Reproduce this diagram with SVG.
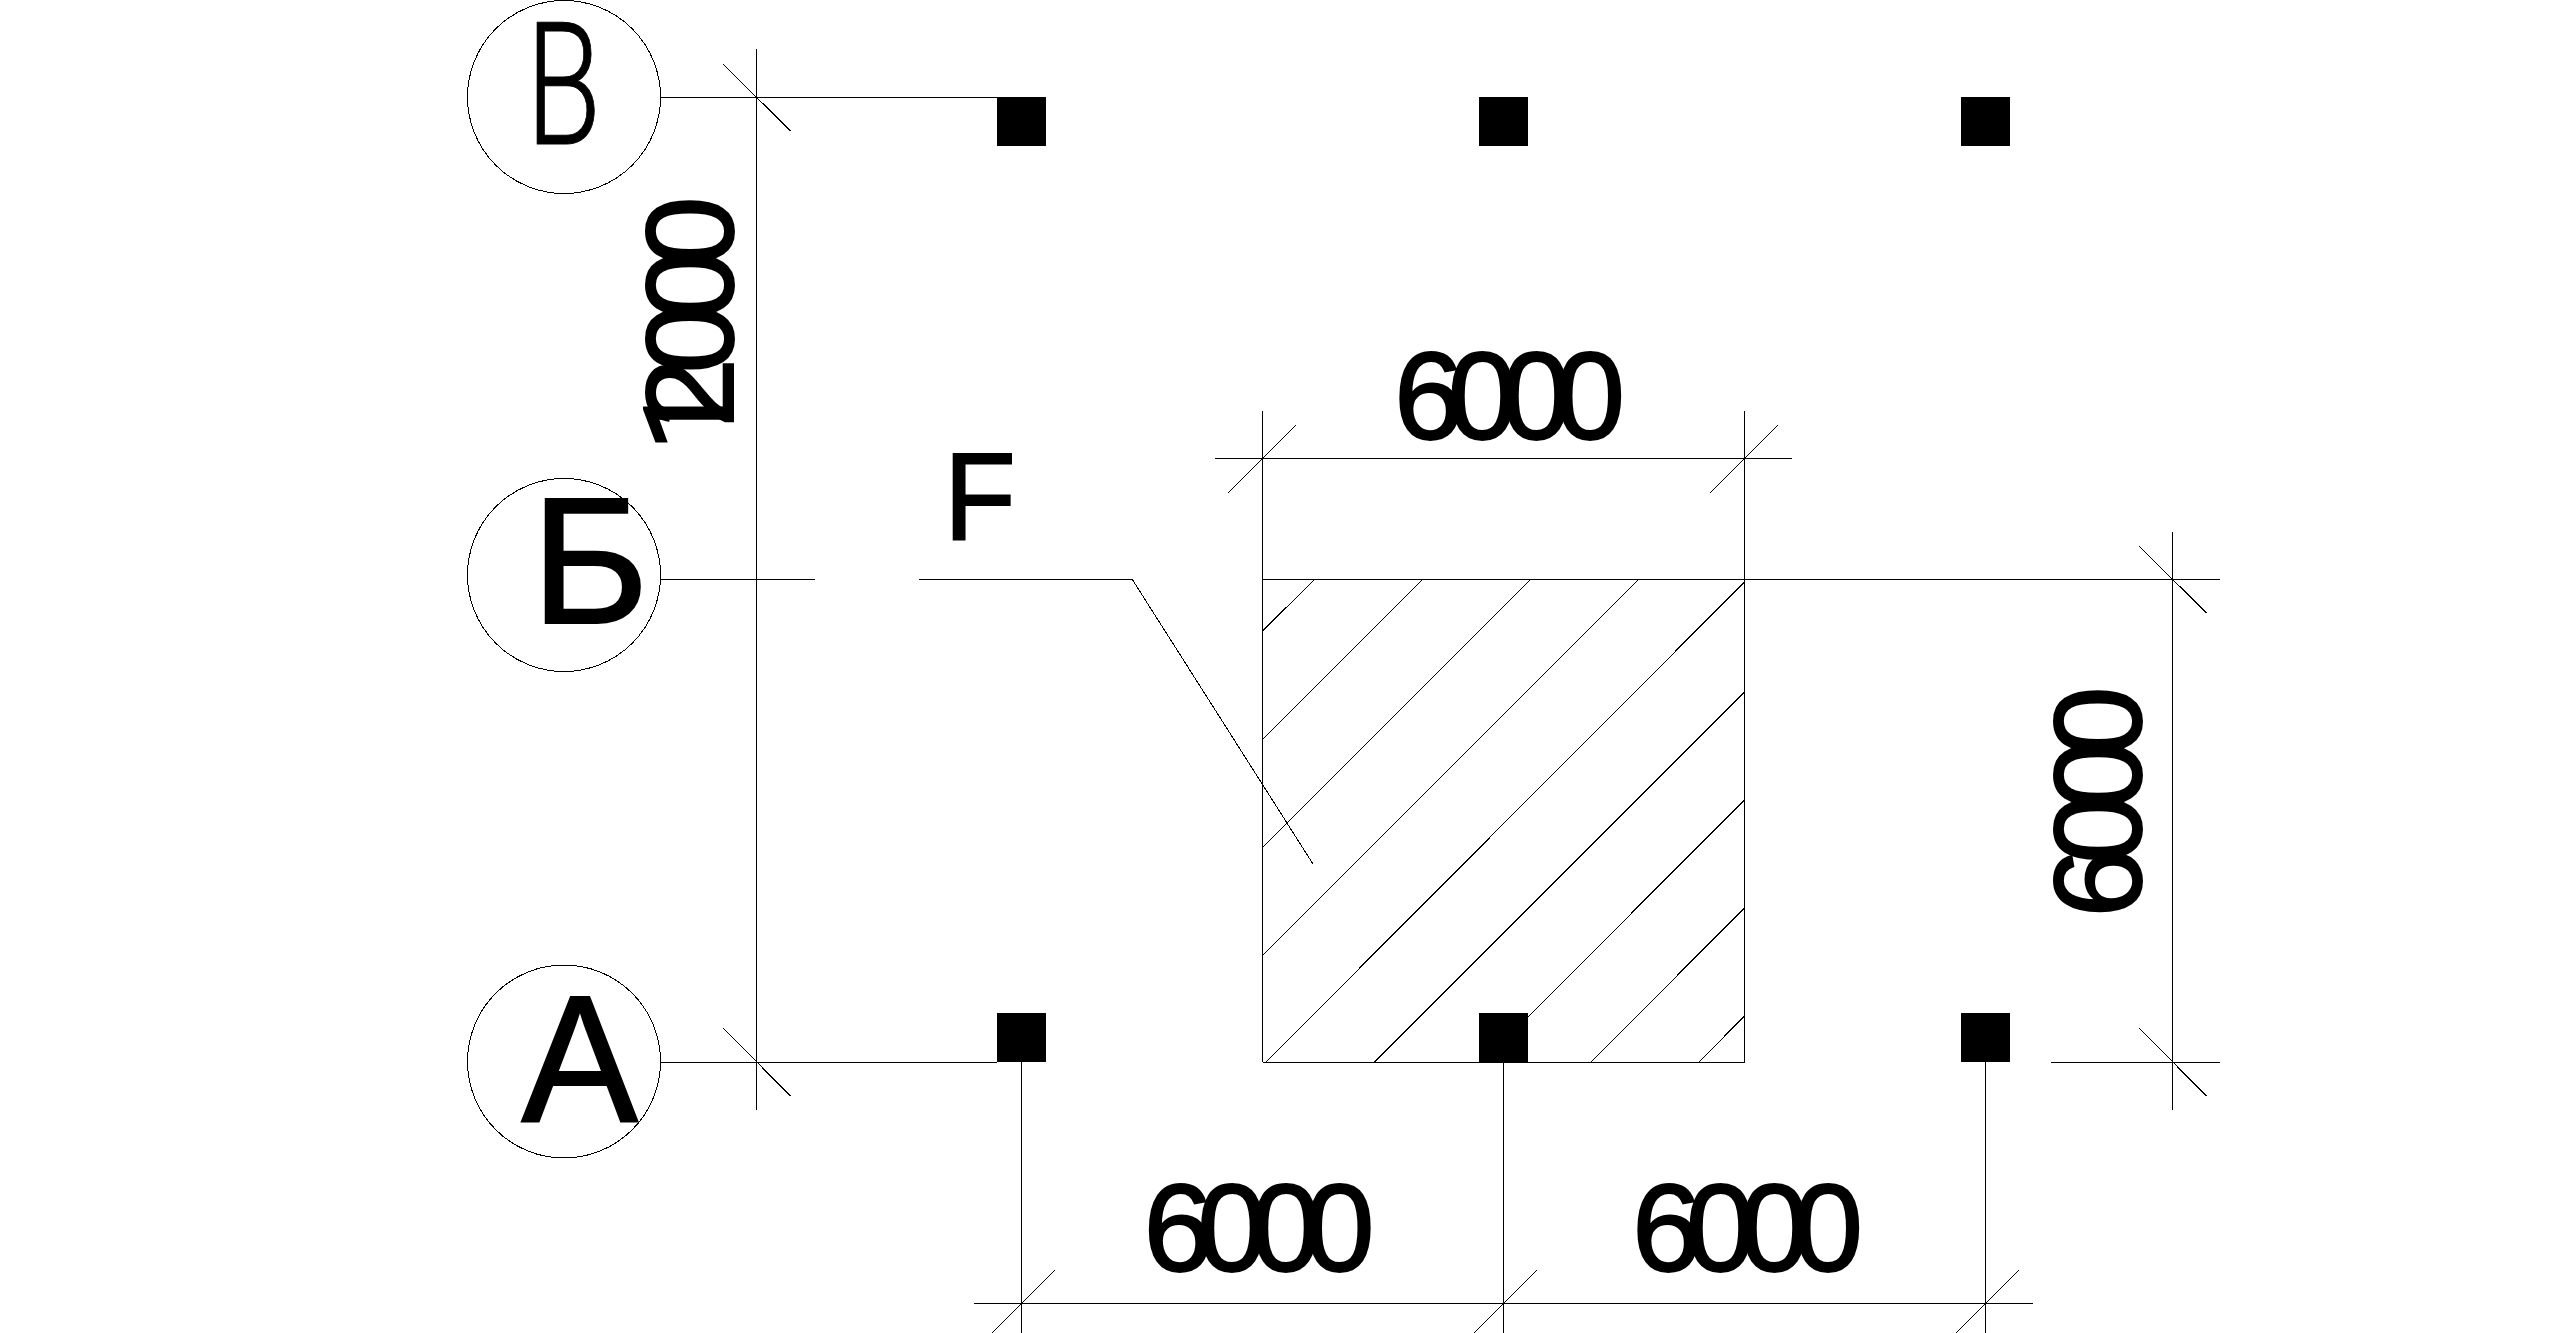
<svg xmlns="http://www.w3.org/2000/svg" width="2561" height="1333" viewBox="0 0 2561 1333">
<style>
line,polyline,circle{stroke:#000;stroke-width:1;fill:none;shape-rendering:crispEdges}
.col{fill:#000;shape-rendering:crispEdges}
text{font-family:"Liberation Sans",Arial,sans-serif;fill:#000;stroke:#000;stroke-width:2px}
.dim{font-size:125px;letter-spacing:-15.7px}
.ax{font-size:180px}
.thin{font-family:Roboto,sans-serif;font-weight:300;font-size:170px;stroke-width:1px;stroke-linejoin:round}
.one{font-family:Roboto,sans-serif}
</style>
<rect width="2561" height="1333" fill="#fff"/>
<g id="connectors">
<line x1="660" y1="97" x2="997" y2="97"/>
<line x1="660" y1="579" x2="815" y2="579"/>
<polyline points="919,579 1132,579 1313,864"/>
<line x1="660" y1="1062" x2="997" y2="1062"/>
<line x1="1262" y1="579" x2="2220" y2="579"/>
<line x1="2051" y1="1062" x2="2220" y2="1062"/>
<line x1="756.5" y1="49" x2="756.5" y2="1110"/>
<line x1="723" y1="64" x2="790.5" y2="131"/>
<line x1="723" y1="1028" x2="790.5" y2="1096"/>
<line x1="1021.5" y1="1062" x2="1021.5" y2="1333"/>
<line x1="1503.5" y1="1062" x2="1503.5" y2="1333"/>
<line x1="1985.5" y1="1062" x2="1985.5" y2="1333"/>
<line x1="974" y1="1303" x2="2033" y2="1303"/>
<line x1="988" y1="1337" x2="1055" y2="1270"/>
<line x1="1470" y1="1337" x2="1537" y2="1270"/>
<line x1="1952" y1="1337" x2="2019" y2="1270"/>
<line x1="1215" y1="458" x2="1792" y2="458"/>
<line x1="1262.5" y1="411" x2="1262.5" y2="1062"/>
<line x1="1744.5" y1="411" x2="1744.5" y2="1062"/>
<line x1="1228" y1="493" x2="1296" y2="425"/>
<line x1="1710" y1="493" x2="1778" y2="425"/>
<line x1="2172.5" y1="532" x2="2172.5" y2="1110"/>
<line x1="2139" y1="546" x2="2206.5" y2="613"/>
<line x1="2139" y1="1028" x2="2206.5" y2="1096"/>
</g>
<g id="hatch-area">
<line x1="1262.5" y1="1062" x2="1744.5" y2="1062"/>
<line x1="1262.5" y1="631" x2="1315" y2="579"/>
<line x1="1262.5" y1="739.5" x2="1423" y2="579"/>
<line x1="1262.5" y1="847.5" x2="1531" y2="579"/>
<line x1="1262.5" y1="955.5" x2="1639" y2="579"/>
<line x1="1266" y1="1062" x2="1744.5" y2="582"/>
<line x1="1374.5" y1="1062" x2="1744.5" y2="692"/>
<line x1="1483" y1="1062" x2="1744.5" y2="800"/>
<line x1="1591" y1="1062" x2="1744.5" y2="908"/>
<line x1="1699" y1="1062" x2="1744.5" y2="1016"/>
</g>
<g id="columns">
<rect class="col" x="997" y="97" width="49" height="49"/>
<rect class="col" x="1479" y="97" width="49" height="49"/>
<rect class="col" x="1961" y="97" width="49" height="49"/>
<rect class="col" x="997" y="1013" width="49" height="49"/>
<rect class="col" x="1479" y="1013" width="49" height="49"/>
<rect class="col" x="1961" y="1013" width="49" height="49"/>
</g>
<g id="axis-v">
<circle cx="564" cy="97" r="96.5"/>
<text class="thin" transform="translate(526 143.5) scale(.72 1)">В</text>
</g>
<g id="axis-b">
<circle cx="564" cy="575" r="96.5"/>
<text class="ax" x="531" y="622.5">Б</text>
</g>
<g id="axis-a">
<circle cx="564" cy="1061.5" r="96.5"/>
<text class="ax" transform="translate(521.5 1120.5) scale(.97 1)">А</text>
</g>
<g id="labels">
<text font-size="125" transform="translate(944 540) scale(.94 1)">F</text>
<text class="dim" x="1394" y="438.5">6000</text>
<text class="dim" x="1143.5" y="1270.5">6000</text>
<text class="dim" x="1632" y="1270.5">6000</text>
<text class="dim" transform="translate(2141 917.5) rotate(-90)">6000</text>
<text class="dim" transform="translate(733 452) rotate(-90)"><tspan class="one">1</tspan><tspan dx="-30">2000</tspan></text>
</g>
</svg>
